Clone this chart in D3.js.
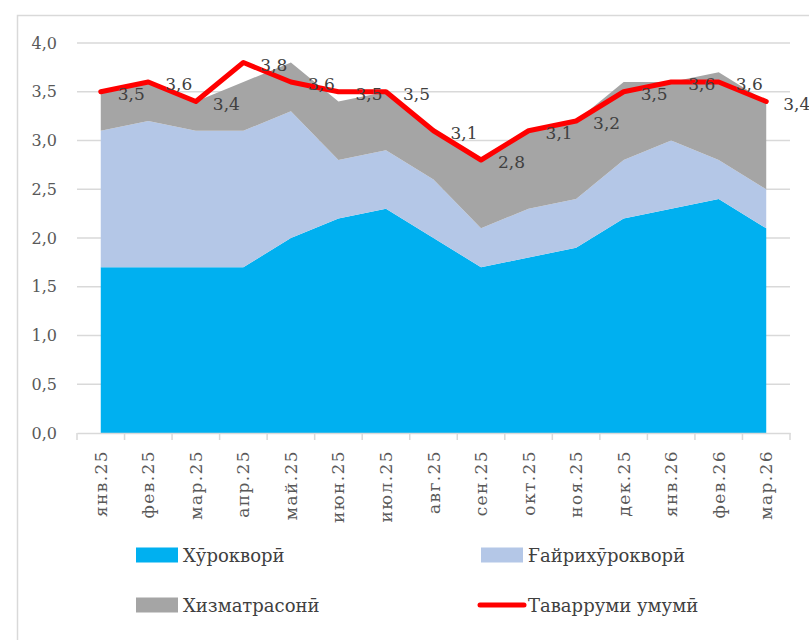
<!DOCTYPE html>
<html>
<head>
<meta charset="utf-8">
<script src="https://cdn.jsdelivr.net/npm/d3@7"></script>
<style>
  body { margin: 0; background: #fff; }
  svg text { font-family: "DejaVu Serif", "Liberation Serif", serif; }
</style>
</head>
<body>
<div id="chart"></div>
<script>
const width = 809;
const height = 640;

// Ойҳо
const months = ["янв.25", "фев.25", "мар.25", "апр.25", "май.25", "июн.25", "июл.25", "авг.25",
    "сен.25", "окт.25", "ноя.25", "дек.25", "янв.26", "фев.26", "мар.26"];

// Саҳми гурӯҳҳо (банд ба банд)
const food     = [1.7, 1.7, 1.7, 1.7, 2.0, 2.2, 2.3, 2.0, 1.7, 1.8, 1.9, 2.2, 2.3, 2.4, 2.1];
const nonFood  = [1.4, 1.5, 1.4, 1.4, 1.3, 0.6, 0.6, 0.6, 0.4, 0.5, 0.5, 0.6, 0.7, 0.4, 0.4];
const services = [0.4, 0.4, 0.3, 0.5, 0.5, 0.6, 0.6, 0.5, 0.7, 0.8, 0.8, 0.8, 0.6, 0.9, 0.9];
const total    = [3.5, 3.6, 3.4, 3.8, 3.6, 3.5, 3.5, 3.1, 2.8, 3.1, 3.2, 3.5, 3.6, 3.6, 3.4];

const yTicks = [0, 0.5, 1, 1.5, 2, 2.5, 3, 3.5, 4];

const seriesNames = ["Хӯрокворӣ", "Ғайрихӯрокворӣ", "Хизматрасонӣ", "Таварруми умумӣ"];
const colors = ["#00B0F0", "#B4C7E7", "#A5A5A5", "#FF0000"];

const fmt = v => d3.format(".1f")(v).replace(".", ",");

const svg = d3.select("#chart").append("svg")
    .attr("width", width)
    .attr("height", height);

// рамка
svg.append("path")
    .attr("d", `M17.5,${height} V15.5 H${width}`)
    .attr("fill", "none")
    .attr("stroke", "#d9d9d9")
    .attr("stroke-width", 1.5);

const x = d3.scaleBand().domain(months).range([77, 790]).padding(0);
const y = d3.scaleLinear().domain([0, 4]).range([433, 43]);
const cx = m => x(m) + x.bandwidth() / 2;

// хатҳои тор
svg.append("g")
    .selectAll("line")
    .data(yTicks.filter(d => d > 0))
    .join("line")
    .attr("x1", 77).attr("x2", 790)
    .attr("y1", d => y(d)).attr("y2", d => y(d))
    .attr("stroke", "#d9d9d9")
    .attr("stroke-width", 1.3);

// майдонҳои ҷамъшуда
const rows = months.map((m, i) => ({ m, food: food[i], nonFood: nonFood[i], services: services[i] }));
const stacked = d3.stack().keys(["food", "nonFood", "services"])(rows);

const area = d3.area()
    .x(d => cx(d.data.m))
    .y0(d => y(d[0]))
    .y1(d => y(d[1]));

svg.append("g")
    .selectAll("path")
    .data(stacked)
    .join("path")
    .attr("d", area)
    .attr("fill", (d, i) => colors[i]);

// меҳвари Y
const yAxis = svg.append("g")
    .attr("transform", "translate(77,0)")
    .call(d3.axisLeft(y).tickValues(yTicks).tickFormat(fmt).tickSize(0).tickPadding(20));
yAxis.select(".domain").remove();
yAxis.selectAll("text")
    .attr("fill", "#595959")
    .style("font-size", "16px");

// меҳвари X
const xAxis = svg.append("g")
    .attr("transform", `translate(0,${y(0)})`)
    .call(d3.axisBottom(x).tickSize(0).tickFormat(""));
xAxis.select(".domain").attr("stroke", "#d9d9d9").attr("stroke-width", 1.5);

svg.append("g")
    .selectAll("line")
    .data(d3.range(months.length + 1))
    .join("line")
    .attr("x1", i => 77 + i * x.bandwidth())
    .attr("x2", i => 77 + i * x.bandwidth())
    .attr("y1", y(0)).attr("y2", y(0) + 7)
    .attr("stroke", "#d9d9d9")
    .attr("stroke-width", 1.5);

svg.append("g")
    .selectAll("text")
    .data(months)
    .join("text")
    .attr("transform", m => `translate(${cx(m) + 6},${y(0) + 17}) rotate(-90)`)
    .attr("text-anchor", "end")
    .attr("fill", "#595959")
    .style("font-size", "17px")
    .style("letter-spacing", "1.4px")
    .text(m => m);

// хати таварруми умумӣ
const line = d3.line()
    .x((d, i) => cx(months[i]))
    .y(d => y(d));

svg.append("path")
    .datum(total)
    .attr("d", line)
    .attr("fill", "none")
    .attr("stroke", colors[3])
    .attr("stroke-width", 5)
    .attr("stroke-linejoin", "round")
    .attr("stroke-linecap", "round");

svg.append("g")
    .selectAll("text")
    .data(total)
    .join("text")
    .attr("x", (d, i) => cx(months[i]) + 17)
    .attr("y", d => y(d) + 2)
    .attr("dominant-baseline", "central")
    .attr("fill", "#404040")
    .style("font-size", "17px")
    .text(fmt);

// легенда
const legendItems = [
    { name: seriesNames[0], color: colors[0], x: 136, y: 555, type: "rect" },
    { name: seriesNames[1], color: colors[1], x: 481, y: 555, type: "rect" },
    { name: seriesNames[2], color: colors[2], x: 136, y: 605, type: "rect" },
    { name: seriesNames[3], color: colors[3], x: 481, y: 605, type: "line" }
];

const lg = svg.append("g")
    .selectAll("g")
    .data(legendItems)
    .join("g")
    .attr("transform", d => `translate(${d.x},${d.y})`);

lg.filter(d => d.type === "rect").append("rect")
    .attr("x", 0).attr("y", -7.5)
    .attr("width", 42).attr("height", 15)
    .attr("fill", d => d.color);

lg.filter(d => d.type === "line").append("line")
    .attr("x1", -1).attr("x2", 43)
    .attr("y1", 0).attr("y2", 0)
    .attr("stroke", d => d.color)
    .attr("stroke-width", 5)
    .attr("stroke-linecap", "round");

lg.append("text")
    .attr("x", 47)
    .attr("y", 0)
    .attr("dominant-baseline", "central")
    .attr("fill", "#404040")
    .style("font-size", "18px")
    .text(d => d.name);
</script>
</body>
</html>
